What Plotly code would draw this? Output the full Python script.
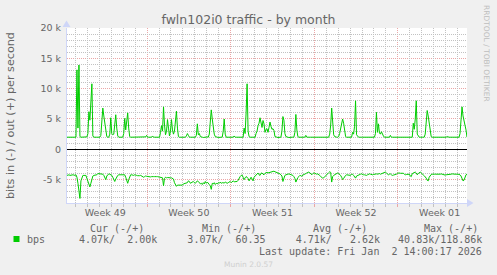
import pandas as pd
import plotly.graph_objects as go

# ---------------- data (2-hour averages, kbit/s) ----------------
out_kbps = [
    2.0, 2.0, 1.95, 2.0, 2.0, 2.05, 2.0, 2.0, 1.95, 2.0, 13.1, 3.5,
    13.9, 2.1, 2.0, 2.0, 1.95, 2.0, 2.0, 2.0, 2.05, 2.6, 6.2, 4.8,
    7.5, 10.8, 2.2, 2.0, 2.0, 1.95, 2.0, 2.0, 2.0, 2.0, 2.3, 4.5,
    6.8, 5.5, 4.0, 2.8, 2.1, 2.0, 2.0, 2.5, 5.2, 2.6, 2.4, 2.5,
    3.8, 5.7, 3.5, 2.2, 2.0, 2.0, 1.95, 2.0, 2.0, 2.6, 5.1, 3.2,
    5.0, 6.0, 3.5, 2.1, 2.0, 2.0, 2.0, 1.95, 2.0, 2.0, 2.05, 2.0,
    2.0, 2.0, 1.95, 2.0, 2.0, 2.0, 2.0, 2.05, 2.3, 2.0, 2.0, 2.0,
    1.95, 2.0, 2.2, 2.0, 2.0, 2.0, 2.0, 1.95, 2.0, 2.0, 2.8, 3.9,
    3.0, 7.0, 4.0, 2.4, 3.0, 4.9, 3.5, 2.2, 3.0, 4.9, 3.2, 2.5,
    3.0, 4.5, 6.3, 3.5, 2.1, 2.0, 2.0, 1.95, 2.0, 2.0, 2.0, 2.0,
    2.2, 2.6, 2.3, 2.0, 2.0, 2.0, 1.95, 2.0, 2.0, 2.0, 2.3, 4.2,
    2.4, 2.6, 2.1, 2.0, 2.0, 1.95, 2.0, 2.0, 2.0, 2.05, 2.0, 2.5,
    4.5, 6.5, 5.0, 3.5, 2.5, 2.1, 2.0, 2.0, 1.95, 2.0, 2.0, 2.0,
    2.0, 3.0, 5.0, 2.5, 2.0, 2.0, 1.95, 2.0, 2.0, 2.0, 2.05, 2.0,
    2.2, 2.0, 2.0, 2.0, 1.95, 2.0, 2.0, 2.0, 2.0, 2.0, 3.5, 2.6,
    6.0, 10.8, 3.0, 2.1, 2.0, 2.0, 1.95, 2.0, 2.0, 2.0, 2.6, 3.0,
    3.9, 4.3, 5.2, 4.0, 3.6, 4.75, 4.2, 2.8, 3.3, 3.4, 2.8, 3.6,
    4.5, 3.8, 3.3, 3.4, 3.1, 2.1, 2.0, 2.0, 1.95, 2.0, 2.0, 2.0,
    3.0, 5.4, 4.8, 2.6, 2.1, 2.0, 2.0, 1.95, 2.0, 2.0, 2.0, 2.0,
    2.0, 2.8, 5.75, 3.2, 2.1, 2.0, 2.0, 1.95, 2.0, 2.0, 2.0, 2.0,
    2.3, 2.0, 2.0, 1.95, 2.0, 2.0, 2.0, 2.05, 2.0, 2.0, 2.0, 1.95,
    2.0, 2.0, 2.0, 2.0, 2.05, 2.0, 2.0, 1.95, 2.0, 2.0, 2.0, 2.0,
    2.5, 4.0, 6.8, 3.4, 2.4, 2.1, 2.0, 2.0, 2.0, 2.1, 2.6, 3.6,
    4.6, 5.0, 4.3, 3.0, 2.1, 2.0, 2.0, 1.95, 2.0, 2.0, 2.0, 2.8,
    2.5, 3.8, 8.0, 2.4, 2.1, 2.0, 2.0, 1.95, 2.0, 2.0, 2.0, 2.05,
    2.0, 2.0, 1.95, 2.0, 2.0, 2.0, 2.0, 2.0, 2.0, 2.0, 2.6, 6.1,
    2.8, 4.2, 2.7, 2.5, 2.9, 2.4, 2.2, 2.0, 2.0, 2.0, 1.95, 2.0,
    2.0, 2.3, 2.0, 2.0, 2.0, 1.95, 2.0, 2.0, 2.0, 2.05, 2.0, 2.0,
    2.0, 1.95, 2.0, 2.0, 2.0, 2.0, 2.05, 2.0, 2.0, 1.95, 2.0, 2.0,
    4.3, 3.3, 5.0, 8.0, 2.5, 2.1, 2.0, 2.0, 1.95, 2.0, 2.0, 2.0,
    2.5, 4.8, 6.4, 5.5, 4.5, 3.2, 2.1, 2.0, 2.0, 1.95, 2.0, 2.0,
    2.0, 2.0, 2.05, 2.0, 2.0, 2.0, 1.95, 2.0, 2.0, 2.0, 2.1, 2.0,
    2.0, 2.0, 1.95, 2.0, 2.0, 2.0, 2.0, 2.05, 2.0, 2.0, 2.0, 2.6,
    4.8, 7.0, 5.5, 4.8, 3.8, 3.2, 2.0,
]

in_kbps = [
    4.3, 4.25, 4.2, 4.3, 4.25, 4.2, 4.2, 4.25, 4.3, 4.2, 4.6, 5.6,
    6.5, 8.1, 5.2, 4.5, 4.3, 4.3, 4.25, 4.3, 4.8, 5.3, 5.9, 6.2,
    5.6, 4.8, 4.4, 4.3, 4.3, 4.25, 4.2, 4.0, 4.0, 4.05, 4.0, 4.0,
    4.1, 4.3, 4.8, 5.0, 4.4, 4.1, 4.05, 4.1, 4.15, 4.3, 4.6, 5.0,
    5.3, 4.9, 4.5, 4.3, 4.2, 4.2, 4.15, 4.2, 4.2, 4.15, 4.2, 4.6,
    5.0, 5.6, 5.0, 4.5, 4.2, 4.2, 4.25, 4.3, 4.2, 4.3, 4.3, 4.35,
    4.4, 4.35, 4.3, 4.4, 4.45, 4.6, 4.5, 4.4, 4.45, 4.5, 4.45, 4.5,
    4.55, 4.5, 4.45, 4.5, 4.5, 4.55, 4.5, 4.5, 4.55, 4.5, 4.6, 4.6,
    4.7, 6.0, 4.8, 4.6, 4.7, 4.65, 4.7, 4.75, 4.7, 4.7, 4.75, 4.9,
    5.5, 6.0, 6.1, 5.9, 5.9, 5.95, 5.9, 5.85, 5.9, 5.7, 5.65, 5.7,
    5.6, 5.5, 5.2, 5.3, 5.6, 5.5, 5.4, 5.3, 5.5, 5.6, 5.4, 5.2,
    5.3, 5.6, 5.7, 5.6, 5.8, 5.5, 5.7, 5.3, 5.6, 5.4, 5.7, 5.8,
    6.0, 6.6, 5.6, 5.7, 5.5, 5.8, 5.6, 5.7, 5.5, 5.6, 5.4, 5.6,
    5.5, 5.5, 5.55, 5.4, 5.5, 5.6, 5.5, 5.4, 5.3, 5.5, 5.3, 5.2,
    5.35, 5.3, 5.25, 5.3, 5.1, 4.7, 4.5, 4.3, 4.25, 4.6, 5.0, 4.7,
    4.5, 4.6, 4.8, 5.2, 4.8, 4.6, 4.9, 5.2, 4.6, 4.4, 4.3, 4.1,
    3.9, 4.2, 4.3, 3.95, 3.9, 4.1, 4.2, 3.95, 3.8, 3.8, 3.9, 3.85,
    3.75, 3.7, 3.65, 3.65, 3.6, 3.7, 3.75, 3.8, 3.9, 4.0, 4.05, 4.2,
    4.4, 5.3, 4.5, 4.3, 4.2, 4.2, 4.1, 4.05, 4.1, 4.15, 4.2, 4.3,
    4.5, 4.8, 5.4, 4.8, 4.65, 4.5, 4.3, 4.35, 4.45, 4.25, 4.2, 4.1,
    4.0, 3.9, 3.8, 3.75, 3.85, 4.0, 4.2, 4.0, 3.9, 3.95, 4.05, 4.1,
    4.05, 4.15, 4.3, 4.5, 4.7, 4.75, 4.7, 4.5, 4.3, 4.2, 4.0, 3.85,
    3.7, 3.8, 5.4, 4.5, 4.3, 4.2, 4.1, 3.95, 3.9, 4.0, 4.1, 4.3,
    4.6, 5.0, 4.8, 4.45, 4.3, 4.2, 4.2, 4.25, 4.3, 4.3, 4.1, 4.1,
    4.3, 4.5, 4.75, 4.4, 4.3, 4.2, 4.1, 4.1, 4.05, 4.15, 4.2, 4.2,
    4.25, 4.3, 4.2, 4.1, 4.05, 4.1, 4.2, 4.2, 4.15, 4.1, 4.1, 4.05,
    4.1, 4.05, 4.0, 4.1, 4.05, 3.95, 3.9, 3.8, 3.75, 3.9, 4.05, 4.2,
    4.1, 4.05, 4.2, 4.3, 4.25, 4.2, 4.2, 4.1, 3.95, 3.9, 3.9, 3.95,
    3.95, 3.9, 3.95, 4.1, 4.2, 4.15, 4.1, 4.05, 4.1, 4.4, 4.5, 4.0,
    3.9, 3.8, 3.75, 3.9, 4.2, 4.0, 3.85, 3.75, 3.9, 4.0, 4.2, 4.35,
    4.5, 4.75, 5.1, 5.2, 4.6, 4.3, 4.15, 4.1, 4.05, 4.1, 4.1, 4.1,
    4.15, 4.2, 4.15, 4.1, 4.05, 4.1, 4.2, 4.3, 4.25, 4.2, 4.2, 4.15,
    4.2, 4.15, 4.1, 4.05, 4.1, 4.1, 4.1, 4.1, 4.05, 4.1, 4.15, 4.2,
    4.4, 4.8, 5.2, 5.1, 4.5, 4.2, 4.07,
]

series_start = "2025-11-30 07:00"
sample_step = "2h"
x_range = ["2025-11-30 07:00", "2026-01-02 19:00"]
y_range = [-8850, 20000]

first_week_start = "2025-11-30"          # Sunday: weekly grid anchor
first_week_center = "2025-12-03 12:00"   # label position (middle of week)
week_label_format = "Week %V"

y_tickvals = [-5000, 0, 5000, 10000, 15000, 20000]
y_ticktext = ["-5 k", "0", "5 k", "10 k", "15 k", "20 k"]

title_text = "fwln102i0 traffic - by month"
y_title = "bits in (-) / out (+) per second"
legend_label = "bps"
legend_headers = ["Cur (-/+)", "Min (-/+)", "Avg (-/+)", "Max (-/+)"]
legend_values = "4.07k/  2.00k     3.07k/  60.35     4.71k/   2.62k   40.83k/118.86k"
last_update = "Last update: Fri Jan  2 14:00:17 2026"
watermark = "Munin 2.0.57"
side_text = "RRDTOOL / TOBI OETIKER"

# ---------------- layout constants ----------------
W, H = 497, 275
ML, MR, MT, MB = 67, 30, 28, 72
PW, PH = W - ML - MR, H - MT - MB
DAY_MS = 86400000

GREEN = "#00CC00"
FONT_C = "#666666"
AXIS_C = "#CFD6F8"
GRID_C = "#C2C2C2"
MGRID_C = "#EBA6A6"
SANS = "DejaVu Sans"
MONO = "DejaVu Sans Mono"
DOT = "1px,1px"

# grid positions (axis configuration)
day_grid = [d for d in pd.date_range("2025-11-30", "2026-01-03", freq="D") if d.dayofweek != 6]
k_grid = [v for v in range(-8000, 20001, 1000) if v % 5000 != 0]


def px(x):
    return (x - ML) / PW


def py(y):
    return (MT + PH - y) / PH


def nb(s):
    return s.replace(" ", "\u00a0")


t_out = pd.date_range(series_start, periods=len(out_kbps), freq=sample_step)
t_in = pd.date_range(series_start, periods=len(in_kbps), freq=sample_step)

fig = go.Figure()
fig.add_trace(go.Scatter(x=t_out, y=[v * 1000 for v in out_kbps], mode="lines",
                         line=dict(color=GREEN, width=1), xaxis="x", yaxis="y",
                         showlegend=False, hoverinfo="skip"))
fig.add_trace(go.Scatter(x=t_in, y=[-v * 1000 for v in in_kbps], mode="lines",
                         line=dict(color=GREEN, width=1), xaxis="x2", yaxis="y2",
                         showlegend=False, hoverinfo="skip"))

fig.update_layout(
    width=W, height=H,
    margin=dict(l=ML, r=MR, t=MT, b=MB, pad=0),
    paper_bgcolor="#F0F0F0",
    plot_bgcolor="#FFFFFF",
    showlegend=False,
    title=dict(text=title_text, x=0.5, xref="container", xanchor="center",
               y=1 - 19.5 / H, yref="container", yanchor="middle",
               font=dict(family=SANS, size=12.5, color=FONT_C)),
    # main x: week labels (middle of week) + weekly red grid as minor
    xaxis=dict(
        type="date", range=x_range, tickmode="linear", tick0=first_week_center,
        dtick=7 * DAY_MS, tickformat=week_label_format,
        showgrid=False, ticks="", zeroline=False,
        minor=dict(tick0=first_week_start, dtick=7 * DAY_MS, showgrid=True,
                   gridcolor=MGRID_C, griddash=DOT, gridwidth=1,
                   ticks="outside", ticklen=3, tickcolor=MGRID_C),
        showline=True, linecolor=AXIS_C, linewidth=1,
        ticklabelstandoff=1,
        tickfont=dict(family=SANS, size=9.5, color=FONT_C),
    ),
    # overlay x: daily grey grid
    xaxis2=dict(
        type="date", range=x_range, overlaying="x", anchor="y2", side="bottom",
        tickmode="array", tickvals=day_grid, showticklabels=False,
        ticks="outside", ticklen=3, tickcolor=GRID_C,
        showgrid=True, gridcolor=GRID_C, griddash=DOT, gridwidth=1,
        showline=False, zeroline=False,
    ),
    # main y: labels + red major grid + zero line
    yaxis=dict(
        range=y_range, tickmode="array", tickvals=y_tickvals, ticktext=y_ticktext,
        showgrid=True, gridcolor=MGRID_C, griddash=DOT, gridwidth=1,
        zeroline=True, zerolinecolor="#000000", zerolinewidth=1,
        showline=True, linecolor=AXIS_C, linewidth=1, ticks="",
        ticklabelstandoff=3,
        tickfont=dict(family=SANS, size=9.5, color=FONT_C),
    ),
    # overlay y: 1k grey grid
    yaxis2=dict(
        range=y_range, overlaying="y", anchor="x2", side="left",
        tickmode="array", tickvals=k_grid, showticklabels=False, ticks="",
        showgrid=True, gridcolor=GRID_C, griddash=DOT, gridwidth=1,
        zeroline=False, showline=False,
    ),
)

# axis arrows (rrdtool style)
fig.add_shape(type="path", xref="paper", yref="paper",
              path=f"M {px(62.5)},{py(27)} L {px(66.5)},{py(20.5)} L {px(70.5)},{py(27)} Z",
              fillcolor=AXIS_C, line=dict(width=0))
fig.add_shape(type="path", xref="paper", yref="paper",
              path=f"M {px(467)},{py(199)} L {px(473.5)},{py(203)} L {px(467)},{py(207)} Z",
              fillcolor=AXIS_C, line=dict(width=0))

# legend colour box
fig.add_shape(type="rect", xref="paper", yref="paper",
              x0=px(13.5), x1=px(19.5), y0=py(242), y1=py(236),
              fillcolor=GREEN, line=dict(width=0))

ann = []
ann.append(dict(text=y_title, x=px(10.5), y=py(115.5), textangle=-90,
                font=dict(family=SANS, size=11.2, color=FONT_C)))
ann.append(dict(text=side_text, x=px(487), y=py(53), textangle=90,
                font=dict(family=SANS, size=7.5, color="#BEBEBE")))
header_x = [88.8, 200.5, 311.8, 422.5]
for h, hx in zip(legend_headers, header_x):
    ann.append(dict(text=nb(h), x=px(hx), y=py(228.5), xanchor="left",
                    font=dict(family=MONO, size=10, color=FONT_C)))
ann.append(dict(text=legend_label, x=px(26.2), y=py(239.5), xanchor="left",
                font=dict(family=MONO, size=10, color=FONT_C)))
ann.append(dict(text=nb(legend_values), x=px(77.8), y=py(239.5), xanchor="left",
                font=dict(family=MONO, size=10, color=FONT_C)))
ann.append(dict(text=nb(last_update), x=px(483.3), y=py(251.5), xanchor="right",
                font=dict(family=MONO, size=10, color=FONT_C)))
ann.append(dict(text=watermark, x=px(248), y=py(264), xanchor="center",
                font=dict(family=SANS, size=7.5, color="#CFCFCF")))

for a in ann:
    a.update(xref="paper", yref="paper", showarrow=False, borderpad=0,
             yanchor=a.get("yanchor", "middle"), xanchor=a.get("xanchor", "center"))
fig.update_layout(annotations=ann)

fig.write_html("out.html")
